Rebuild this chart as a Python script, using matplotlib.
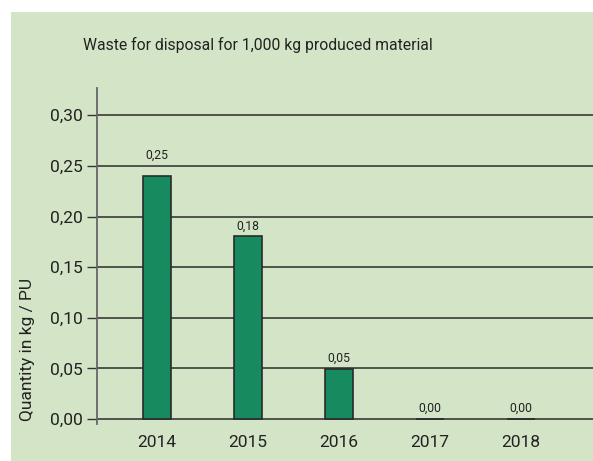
import matplotlib
matplotlib.use("Agg")
import matplotlib.pyplot as plt

years = ["2014", "2015", "2016", "2017", "2018"]
values = [0.240, 0.181, 0.049, 0.0, 0.0]
value_labels = ["0,25", "0,18", "0,05", "0,00", "0,00"]
label_heights = [0.25, 0.18, 0.05, 0.00, 0.00]
yticks = [0.00, 0.05, 0.10, 0.15, 0.20, 0.25, 0.30]
ytick_labels = ["0,00", "0,05", "0,10", "0,15", "0,20", "0,25", "0,30"]
title = "Waste for disposal for 1,000 kg produced material"
ylabel = "Quantity in kg / PU"

BG = "#d4e5c7"
BAR = "#178a60"
plt.rcParams["font.family"] = ["Roboto", "DejaVu Sans"]

W, H = 593, 461
fig = plt.figure(figsize=(W / 100, H / 100), dpi=100)
fig.patch.set_facecolor("white")
fig.patches.append(plt.Rectangle((11 / W, 0), 1 - 11 / W, 1 - 12 / H,
                                 transform=fig.transFigure, facecolor=BG,
                                 edgecolor="none", zorder=-10))

left, right = 97, 593
top, bottom = 88, 424
ax = fig.add_axes([left / W, (H - bottom) / H, (right - left) / W, (bottom - top) / H])
ax.set_facecolor("none")

x = list(range(len(years)))
ax.bar(x, values, width=0.308, color=BAR, edgecolor="#2a2a2a", linewidth=1.2, zorder=3)

for xi, lab, lh in zip(x, value_labels, label_heights):
    ax.annotate(lab, (xi, lh), xytext=(0, 7.5), textcoords="offset points",
                ha="center", va="center", fontsize=8.8, color="#222222")

ax.set_xlim(-0.659, 4.79)
ax.set_ylim(-0.005, 0.327)
ax.set_yticks(yticks)
ax.set_yticklabels(ytick_labels, fontsize=12.5, color="#222222")
ax.set_xticks(x)
ax.set_xticklabels(years, fontsize=12.5, color="#222222")
ax.tick_params(axis="y", length=7, width=1, color="#333333", pad=3)
ax.tick_params(axis="x", length=0, pad=8)
for yt in yticks:
    ax.axhline(yt, color="#2b2b2b", linewidth=1.1, zorder=1)
for s in ["top", "right", "bottom"]:
    ax.spines[s].set_visible(False)
ax.spines["left"].set_color("#666666")
ax.spines["left"].set_linewidth(1.3)

fig.text(258 / W, 1 - 45 / H, title, ha="center", va="center", fontsize=11.3, color="#222222")
fig.text(28 / W, 1 - 349 / H, ylabel, ha="center", va="center", rotation=90,
         fontsize=12.5, color="#222222")

fig.savefig("out.png", dpi=100, facecolor=fig.get_facecolor())
